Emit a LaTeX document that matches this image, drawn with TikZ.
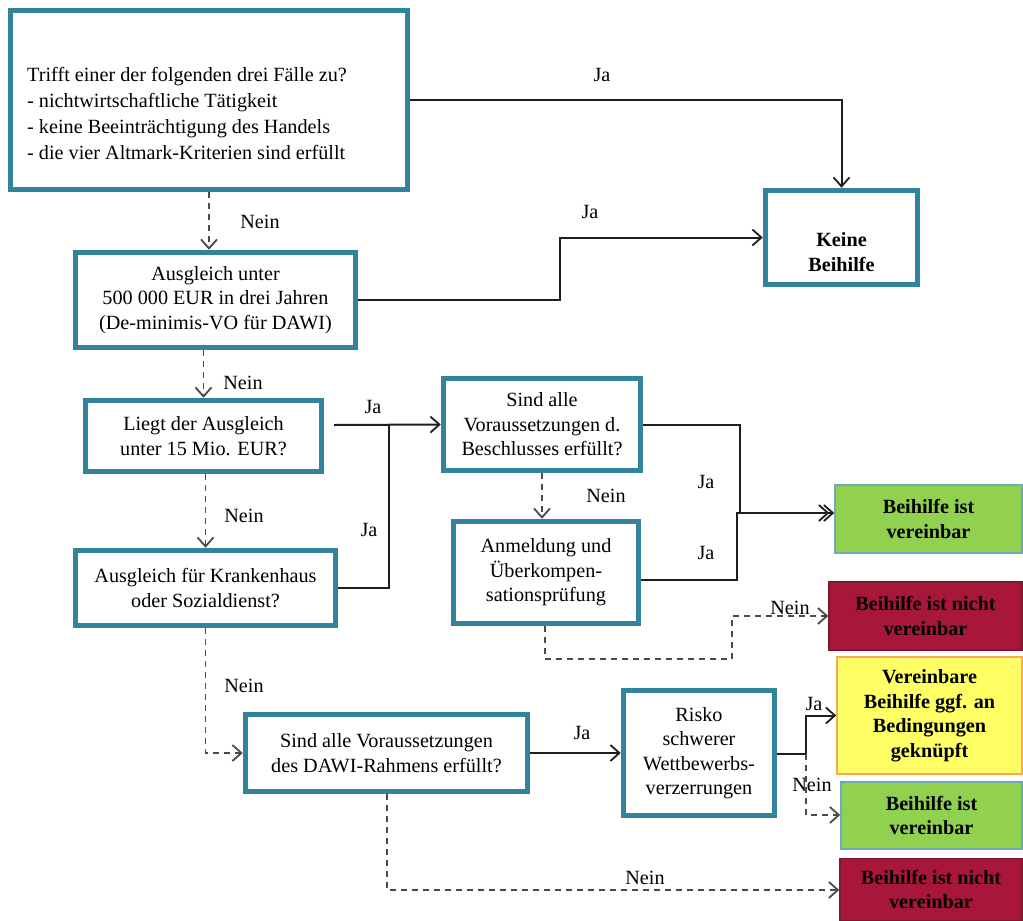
\documentclass[tikz,border=0pt]{standalone}
\usepackage{fontspec}
\setmainfont{Liberation Serif}
\usetikzlibrary{arrows.meta}
\definecolor{tealb}{HTML}{31849B}
\definecolor{okgreen}{HTML}{92D050}
\definecolor{nored}{HTML}{A8173A}
\definecolor{redb}{HTML}{7A1A2C}
\definecolor{ylw}{HTML}{FFFF66}
\definecolor{orng}{HTML}{F9A65A}
\definecolor{lnc}{HTML}{1E1E1E}
\definecolor{dashc}{HTML}{4A4A4A}
\newcommand\dfont{\fontsize{20.2}{24.5}\selectfont}
\newcommand\dfontw{\fontsize{20.2}{26}\selectfont}
\tikzset{
  tbox/.style={draw=tealb, line width=5.5pt, fill=white, inner sep=0pt, align=center, font=\dfont},
  cbox/.style={line width=1.5pt, inner sep=0pt, align=center, font=\dfont\bfseries},
  yes/.style={draw=lnc, line width=2pt, -{Straight Barb[length=9pt,width=16pt,line width=1.8pt]}},
  yesl/.style={draw=lnc, line width=2pt},
  no/.style={draw=dashc, line width=1.9pt, dash pattern=on 6pt off 5pt, -{Straight Barb[length=9pt,width=16pt,line width=1.8pt]}},
  lab/.style={font=\dfont, inner sep=0pt}
}
\begin{document}
\begin{tikzpicture}[x=1pt,y=-1pt]
\useasboundingbox (0,0) rectangle (1023,921);
% teal boxes
\node[tbox, minimum width=397pt, minimum height=179pt] (q1) at (209,100) {};
\node[anchor=west, align=left, font=\dfontw, inner sep=0pt] (q1t) at (27,113) {Trifft einer der folgenden drei Fälle zu?\\- nichtwirtschaftliche Tätigkeit\\- keine Beeinträchtigung des Handels\\- die vier Altmark-Kriterien sind erfüllt};
\node[tbox, minimum width=152pt, minimum height=94pt] (keine) at (841.5,237.5) {};
\node[font=\dfont\bfseries, align=center, inner sep=0pt] (keinet) at (841.5,252) {Keine\\Beihilfe};
\node[tbox, minimum width=280pt, minimum height=95pt] (aus) at (215.5,300) {Ausgleich unter\\500 000 EUR in drei Jahren\\(De-minimis-VO für DAWI)};
\node[tbox, minimum width=236pt, minimum height=71pt] (liegt) at (203.5,436) {Liegt der Ausgleich\\unter 15 Mio. EUR?};
\node[tbox, minimum width=197pt, minimum height=92pt] (sindd) at (542,424.5) {Sind alle\\Voraussetzungen d.\\Beschlusses erfüllt?};
\node[tbox, minimum width=185pt, minimum height=102pt] (anm) at (546,572.5) {Anmeldung und\\Überkompen-\\sationsprüfung};
\node[tbox, minimum width=260pt, minimum height=75pt] (kh) at (205.5,588) {Ausgleich für Krankenhaus\\oder Sozialdienst?};
\node[tbox, minimum width=282pt, minimum height=77pt] (dawi) at (386.5,753) {Sind alle Voraussetzungen\\des DAWI-Rahmens erfüllt?};
\node[tbox, minimum width=151pt, minimum height=125pt] (risko) at (699,753) {Risko\\schwerer\\Wettbewerbs-\\verzerrungen};
% coloured result boxes
\node[cbox, draw=tealb!70, fill=okgreen, minimum width=187pt, minimum height=68pt] (g1) at (928.5,519) {Beihilfe ist\\vereinbar};
\node[cbox, draw=redb, fill=nored, minimum width=193pt, minimum height=68pt] (r1) at (925.5,616) {Beihilfe ist nicht\\vereinbar};
\node[cbox, draw=orng, fill=ylw, minimum width=185pt, minimum height=117pt] (y1) at (929.5,715.5) {Vereinbare\\Beihilfe ggf. an\\Bedingungen\\geknüpft};
\node[cbox, draw=tealb!70, fill=okgreen, minimum width=181pt, minimum height=67pt] (g2) at (931.5,815.5) {Beihilfe ist\\vereinbar};
\node[cbox, draw=redb, fill=nored, minimum width=182pt, minimum height=62pt] (r2) at (931,889.5) {Beihilfe ist nicht\\vereinbar};
% helper coordinates
\coordinate (ls) at (334,425);
\coordinate (j1) at (389,425);
\coordinate (j2) at (740,513);
\coordinate (j3) at (737,580);
\coordinate (k1) at (545,659);
\coordinate (k2) at (732,616);
\coordinate (j4) at (806,754);
\coordinate (j5) at (806,815);
\coordinate (p1) at (387,890);
% connectors
\draw[yes] (q1.east) -| (keine.north);
\draw[no] (q1.south) -- (q1.south |- aus.north);
\draw[yes] (aus.east) -- (560,300) |- (keine.west);
\draw[no] (liegt.north |- aus.south) -- (liegt.north);
\draw[yes] (ls) -- (sindd.west);
\draw[yesl] (kh.east) -| (j1);
\draw[no] (kh.north |- liegt.south) -- (kh.north);
\draw[yes] (sindd.east) -| (j2) -- (g1.west |- j2);
\draw[yes] (anm.east |- j3) -| (737,513) -- ([xshift=-5pt]g1.west |- j2);
\draw[no] (sindd.south) -- (sindd.south |- anm.north);
\draw[no] (anm.south -| k1) -- (k1) -| (k2) -- (r1.west |- k2);
\draw[no] (kh.south) |- (dawi.west);
\draw[yes] (dawi.east) -- (risko.west);
\draw[yes] (risko.east |- j4) -| (y1.west -| j4) -- (y1.west);
\draw[no] (j4) -- (j5) -- (g2.west |- j5);
\draw[no] (dawi.south -| p1) -- (p1) -- (r2.west |- p1);
% labels
\node[lab] (l1) at (602,75) {Ja};
\node[lab] (l2) at (260,222) {Nein};
\node[lab] (l3) at (590,212) {Ja};
\node[lab] (l4) at (243,383) {Nein};
\node[lab] (l5) at (373,407) {Ja};
\node[lab] (l6) at (369,530) {Ja};
\node[lab] (l7) at (244,516) {Nein};
\node[lab] (l8) at (706,482) {Ja};
\node[lab] (l9) at (706,553) {Ja};
\node[lab] (l10) at (606,496) {Nein};
\node[lab] (l11) at (790,608) {Nein};
\node[lab] (l12) at (244,686) {Nein};
\node[lab] (l13) at (582,733) {Ja};
\node[lab] (l14) at (814,704) {Ja};
\node[lab] (l15) at (812,785) {Nein};
\node[lab] (l16) at (645,878) {Nein};
\end{tikzpicture}
\end{document}
